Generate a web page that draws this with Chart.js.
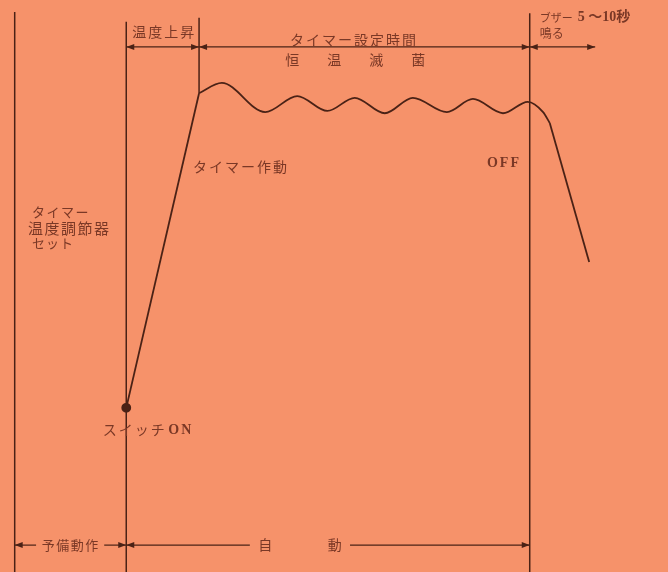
<!DOCTYPE html>
<html lang="ja">
<head>
<meta charset="utf-8">
<title>恒温滅菌 タイムチャート</title>
<script src="https://cdn.jsdelivr.net/npm/chart.js@4.4.1/dist/chart.umd.min.js"></script>
<style>
  html, body { margin: 0; padding: 0; background: #f6926a; }
  #wrap { width: 668px; height: 572px; }
</style>
</head>
<body>
<div id="wrap"><canvas id="chart" width="668" height="572"></canvas></div>
<script>
// Time axis and temperature axis are both 0-100 (arbitrary units)

// temperature curve: switch ON -> heat up, hold (sterilise), buzzer / cool down
const rampTime = [18.9, 29.8];
const rampTemp = [28.7, 83.7];
const holdTime = [29.8, 33.2, 39.7, 44.5, 49.0, 53.1, 57.6, 61.8, 66.9, 70.8, 75.3, 79.0, 81.3, 82.3];
const holdTemp = [83.7, 85.5, 80.4, 83.2, 80.6, 82.9, 80.2, 82.9, 80.4, 82.7, 80.2, 82.2, 80.4, 78.5];
const coolTime = [82.3, 88.2];
const coolTemp = [78.5, 54.2];

// vertical event lines
const guideTimes = [2.2, 18.9, 29.8, 79.3];
const guideTop = [97.9, 96.2, 96.9, 97.7];
const guideBottom = [0, 0, 83.7, 0];

// dimension lines (top: phases, bottom: manual / automatic)
const topDimTemp = 91.8;
const topDimTimes = [18.9, 29.8, 79.3, 89.1];
const bottomDimTemp = 4.7;
const bottomDimStart = [2.2, 15.6, 18.9, 52.4];
const bottomDimEnd = [5.4, 18.9, 37.4, 79.3];
const bottomDimArrowStart = [true, false, true, false];
const bottomDimArrowEnd = [false, true, false, true];

// text labels
const labelTexts = ['温度上昇', 'タイマー設定時間', '恒温滅菌', 'ブザー', '5 〜10秒', '鳴る',
  'タイマー作動', 'OFF', 'タイマー', '温度調節器', 'セット', 'スイッチ', 'ON', '予備動作', '自', '動'];
const labelTimes = [19.8, 43.4, 42.7, 80.8, 86.5, 80.8, 28.9, 72.9, 4.8, 4.2, 4.8, 15.4, 25.2, 10.6, 39.7, 50.1];
const labelTemps = [94.4, 93.0, 89.5, 96.9, 97.0, 94.1, 70.8, 71.5, 62.9, 60.1, 57.5, 24.8, 24.8, 4.7, 4.7, 4.7];

const INK = '#4a2216';
const TEXT = '#7a3826';
const JP = '"Noto Sans CJK JP", sans-serif';
const MIX = '"Liberation Serif", "Noto Sans CJK JP", serif';

const labelStyles = [
  { font: '14px ' + JP, spacing: '2px' },
  { font: '14px ' + JP, spacing: '2px' },
  { font: '14px ' + JP, spacing: '28px' },
  { font: '11px ' + JP, spacing: '0px' },
  { font: 'bold 14px ' + MIX, spacing: '0px' },
  { font: '12px ' + JP, spacing: '0px' },
  { font: '14px ' + JP, spacing: '2px' },
  { font: 'bold 14px "Liberation Serif", serif', spacing: '2px' },
  { font: '13px ' + JP, spacing: '1.5px' },
  { font: '15px ' + JP, spacing: '1.5px' },
  { font: '13px ' + JP, spacing: '1px' },
  { font: '14px ' + JP, spacing: '2px' },
  { font: 'bold 14px "Liberation Serif", serif', spacing: '2px' },
  { font: '13px ' + JP, spacing: '1.5px', align: 'center' },
  { font: '14px ' + JP, spacing: '0px', align: 'center' },
  { font: '14px ' + JP, spacing: '0px', align: 'center' }
];

const toPoints = (xs, ys) => xs.map((v, i) => ({ x: v, y: ys[i] }));

const lineSet = (data, extra) => Object.assign({
  data: data,
  borderColor: INK,
  borderWidth: 1.6,
  pointRadius: 0,
  showLine: true,
  fill: false,
  tension: 0
}, extra || {});

const datasets = [];

// guides
guideTimes.forEach((t, i) => {
  datasets.push(lineSet([{ x: t, y: guideTop[i] }, { x: t, y: guideBottom[i] }], { borderWidth: 1.5 }));
});

// top dimension segments, arrows at both ends
for (let i = 0; i < topDimTimes.length - 1; i++) {
  datasets.push(lineSet([{ x: topDimTimes[i], y: topDimTemp }, { x: topDimTimes[i + 1], y: topDimTemp }], {
    borderWidth: 1.2, arrowStart: true, arrowEnd: true
  }));
}

// bottom dimension segments
bottomDimStart.forEach((s, i) => {
  datasets.push(lineSet([{ x: s, y: bottomDimTemp }, { x: bottomDimEnd[i], y: bottomDimTemp }], {
    borderWidth: 1.2, arrowStart: bottomDimArrowStart[i], arrowEnd: bottomDimArrowEnd[i]
  }));
});

// temperature curve
datasets.push(lineSet(toPoints(rampTime, rampTemp), {
  borderWidth: 1.8, pointRadius: [4, 0], pointBackgroundColor: INK, pointBorderColor: INK
}));
datasets.push(lineSet(toPoints(holdTime, holdTemp), { borderWidth: 1.8, cubicInterpolationMode: 'monotone' }));
datasets.push(lineSet(toPoints(coolTime, coolTemp), { borderWidth: 1.8 }));

// arrowheads at the ends of dimension lines
const arrowPlugin = {
  id: 'dimArrows',
  afterDatasetsDraw(chart) {
    const ctx = chart.ctx;
    ctx.save();
    ctx.fillStyle = INK;
    chart.data.datasets.forEach((ds, di) => {
      if (!ds.arrowStart && !ds.arrowEnd) return;
      const pts = chart.getDatasetMeta(di).data;
      const a = pts[0], b = pts[pts.length - 1];
      const head = (tip, from) => {
        const ang = Math.atan2(tip.y - from.y, tip.x - from.x);
        const len = 8, half = 3;
        ctx.beginPath();
        ctx.moveTo(tip.x, tip.y);
        ctx.lineTo(tip.x - len * Math.cos(ang) + half * Math.sin(ang), tip.y - len * Math.sin(ang) - half * Math.cos(ang));
        ctx.lineTo(tip.x - len * Math.cos(ang) - half * Math.sin(ang), tip.y - len * Math.sin(ang) + half * Math.cos(ang));
        ctx.closePath();
        ctx.fill();
      };
      if (ds.arrowStart) head(a, b);
      if (ds.arrowEnd) head(b, a);
    });
    ctx.restore();
  }
};

const textPlugin = {
  id: 'diagramText',
  afterDatasetsDraw(chart) {
    const { ctx, scales: { x, y } } = chart;
    ctx.save();
    ctx.textBaseline = 'middle';
    labelTexts.forEach((t, i) => {
      const st = labelStyles[i];
      ctx.font = st.font;
      ctx.letterSpacing = st.spacing;
      ctx.textAlign = st.align || 'left';
      ctx.fillStyle = TEXT;
      ctx.fillText(t, x.getPixelForValue(labelTimes[i]), y.getPixelForValue(labelTemps[i]));
    });
    ctx.restore();
  }
};

new Chart(document.getElementById('chart'), {
  type: 'line',
  data: { datasets: datasets },
  options: {
    responsive: false,
    animation: false,
    devicePixelRatio: 1,
    layout: { padding: 0, autoPadding: false },
    scales: {
      x: { type: 'linear', min: 0, max: 100, display: false },
      y: { type: 'linear', min: 0, max: 100, display: false }
    },
    plugins: {
      legend: { display: false },
      tooltip: { enabled: false }
    }
  },
  plugins: [arrowPlugin, textPlugin]
});
</script>
</body>
</html>
